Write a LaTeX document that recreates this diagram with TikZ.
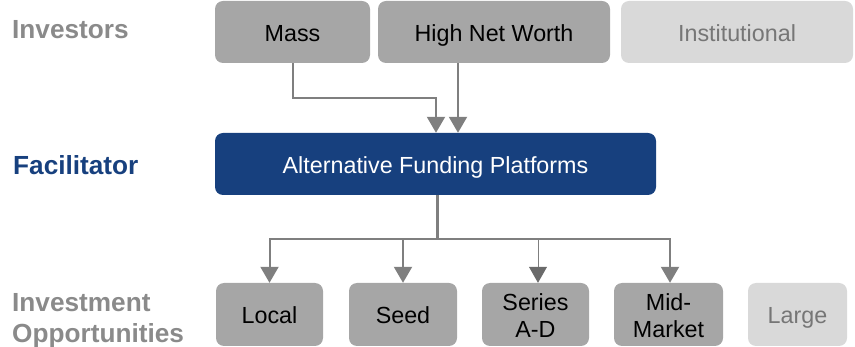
\documentclass[tikz,border=0pt]{standalone}
\usepackage{fontspec}
\setmainfont{Liberation Sans}
\usetikzlibrary{arrows.meta}
\definecolor{boxgray}{HTML}{A6A6A6}
\definecolor{lightbox}{HTML}{D9D9D9}
\definecolor{lighttext}{HTML}{767676}
\definecolor{navy}{HTML}{17407E}
\definecolor{labelgray}{HTML}{8A8A8A}
\definecolor{arrgray}{HTML}{7F7F7F}
\definecolor{darkarr}{HTML}{6A6A6A}
\begin{document}
\begin{tikzpicture}[x=1pt,y=-1pt,
  box/.style={draw=none,fill=boxgray,rounded corners=8pt,inner sep=0pt,
    minimum height=62pt,text=black,align=center,text height=22pt,text depth=3pt,
    font=\fontsize{23.3}{27}\selectfont},
  twoline/.style={text height=49pt},
  lightbx/.style={box,fill=lightbox,text=lighttext},
  bluebox/.style={box,fill=navy,text=white},
  lbl/.style={anchor=base west,inner sep=0pt,font=\bfseries\fontsize{26.2}{31}\selectfont,text=labelgray},
  conn/.style={draw=arrgray,line width=2pt},
  arr/.style={conn,-{Triangle[width=18pt,length=16pt]}}]
\useasboundingbox (0,0) rectangle (855,347);
% labels
\node[lbl] (l1) at (12,39) {Investors};
\node[lbl,text=navy] (l2) at (13,175) {Facilitator};
\node[lbl] (l3) at (12,312) {Investment};
\node[lbl] (l4) at (12,343) {Opportunities};
% top row
\node[box,minimum width=155pt] (mass) at (292.5,32) {Mass};
\node[box,minimum width=232pt] (hnw) at (494,32) {High Net Worth};
\node[lightbx,minimum width=232pt] (inst) at (737,32) {Institutional};
% middle
\node[bluebox,minimum width=441pt] (alt) at (435.5,164) {Alternative Funding Platforms};
% bottom row
\node[box,minimum width=107pt,minimum height=63pt] (local) at (269.5,314.5) {Local};
\node[box,minimum width=108pt,minimum height=63pt] (seed) at (403,314.5) {Seed};
\node[box,twoline,minimum width=107pt,minimum height=63pt] (series) at (535.5,314.5) {Series\\A-D};
\node[box,twoline,minimum width=109pt,minimum height=63pt] (mid) at (668.5,314.5) {Mid-\\Market};
\node[lightbx,minimum width=99pt,minimum height=63pt] (large) at (797.5,314.5) {Large};
% top connectors
\draw[arr] (mass.south) -- ++(0,35) -| ([xshift=0.5pt]alt.north);
\draw[arr] ([xshift=-36pt]hnw.south) -- ([xshift=-36pt]hnw.south |- alt.north);
% bottom connectors
\draw[conn,line width=3pt] ([xshift=1.5pt]alt.south) -- ++(0,44) coordinate (j);
\draw[arr] (j) -| (local.north);
\draw[arr] (j) -| (seed.north);
\draw[arr] (j) -| ([xshift=1.5pt]mid.north);
\draw[conn,line width=0.8pt,-{Triangle[width=18pt,length=16pt,color=darkarr]}] ([xshift=2.5pt]series.north |- j) -- ([xshift=2.5pt]series.north);
\end{tikzpicture}
\end{document}
